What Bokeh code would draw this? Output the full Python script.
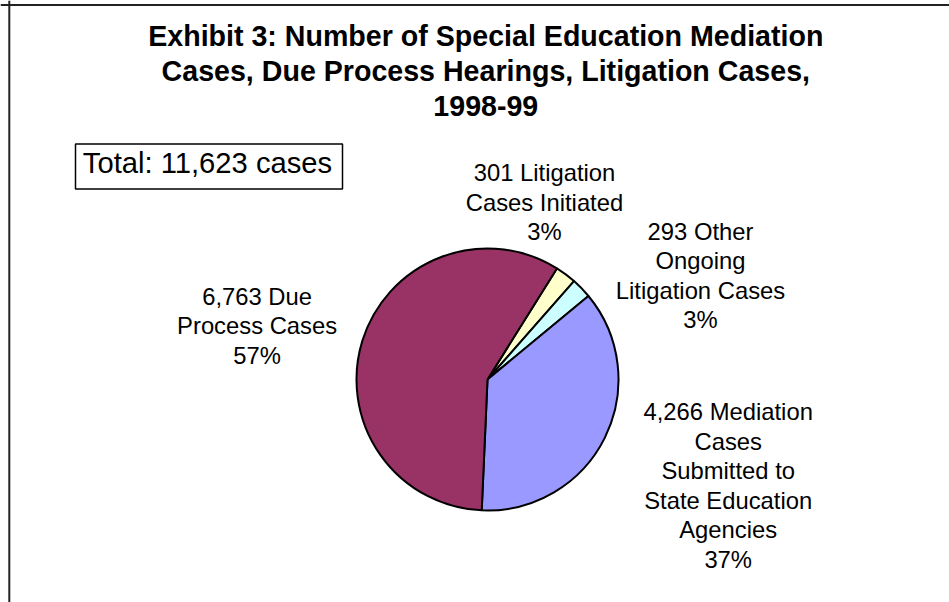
import numpy as np
from bokeh.plotting import figure
from bokeh.models import Range1d, ColumnDataSource, Span, BoxAnnotation
from bokeh.core.properties import value
from bokeh.embed import file_html
from bokeh.resources import INLINE

# ---------------- data ----------------
categories = [
    "Litigation Cases Initiated",
    "Other Ongoing Litigation Cases",
    "Mediation Cases Submitted to State Education Agencies",
    "Due Process Cases",
]
cases = [301, 293, 4266, 6763]
pct_labels = ["3%", "3%", "37%", "57%"]
colors = ["#FFFFCC", "#CCFFFF", "#9999FF", "#993366"]

label_lines = [
    [f"{cases[0]:,} Litigation", "Cases Initiated", pct_labels[0]],
    [f"{cases[1]:,} Other", "Ongoing", "Litigation Cases", pct_labels[1]],
    [f"{cases[2]:,} Mediation", "Cases", "Submitted to", "State Education", "Agencies", pct_labels[2]],
    [f"{cases[3]:,} Due", "Process Cases", pct_labels[3]],
]
title_lines = [
    "Exhibit 3: Number of Special Education Mediation",
    "Cases, Due Process Hearings, Litigation Cases,",
    "1998-99",
]
total_text = f"Total: {sum(cases):,} cases"

# ---------------- layout ----------------
W, H = 949, 602
FONT = value("Liberation Sans")
DY = -9.5  # text baseline correction


def Y(img_y):
    return H - img_y


p = figure(width=W, height=H, x_range=Range1d(0, W), y_range=Range1d(0, H),
           output_backend="svg", toolbar_location=None,
           x_axis_location=None, y_axis_location=None, min_border=0)
p.grid.visible = False
p.outline_line_color = None
p.background_fill_color = "white"
p.border_fill_color = "white"

# frame lines (top and left visible in reference)
p.add_layout(Span(location=8.8, dimension="height", line_color="#222222", line_width=2))
p.add_layout(Span(location=Y(4.6), dimension="width", line_color="#222222", line_width=2))

# pie
total = sum(cases)
fr = np.array(cases) / total
cum_after = np.cumsum(fr)
cum_before = cum_after - fr
theta0 = np.pi / 2 - np.radians(32)
starts = theta0 - 2 * np.pi * cum_after
ends = theta0 - 2 * np.pi * cum_before
src = ColumnDataSource(dict(cat=categories, val=cases, start=starts, end=ends, color=colors))
p.wedge(x=487, y=Y(379), radius=131, start_angle="start", end_angle="end",
        direction="anticlock", fill_color="color", line_color="black",
        line_width=2, source=src)

# slice labels
anchors = [(544, 181.7), (700, 240), (727.7, 420.7), (256.6, 305)]
spacing = 29.5
lx, ly, lt = [], [], []
for (ax, ay), lines in zip(anchors, label_lines):
    for i, t in enumerate(lines):
        lx.append(ax)
        ly.append(Y(ay + i * spacing + DY))
        lt.append(t)
p.text(x=lx, y=ly, text=lt, text_font=FONT, text_font_size=value("23.8px"),
       text_align="center", text_baseline="alphabetic", text_color="black")

# title
tx = [485.3] * len(title_lines)
ty = [Y(45 + 35 * i + DY) for i in range(len(title_lines))]
p.text(x=tx, y=ty, text=title_lines, text_font=FONT, text_font_size=value("28.6px"),
       text_font_style="bold", text_align="center", text_baseline="alphabetic",
       text_color="black")

# total box
p.add_layout(BoxAnnotation(left=75, right=342, top=Y(143.5), bottom=Y(188.5),
                           fill_color=None, fill_alpha=0, line_color="black",
                           line_alpha=1, line_width=1.5))
p.text(x=[207], y=[Y(172 + DY)], text=[total_text], text_font=FONT,
       text_font_size=value("29.2px"), text_align="center",
       text_baseline="alphabetic", text_color="black")

open("out.html", "w").write(file_html(p, INLINE))
